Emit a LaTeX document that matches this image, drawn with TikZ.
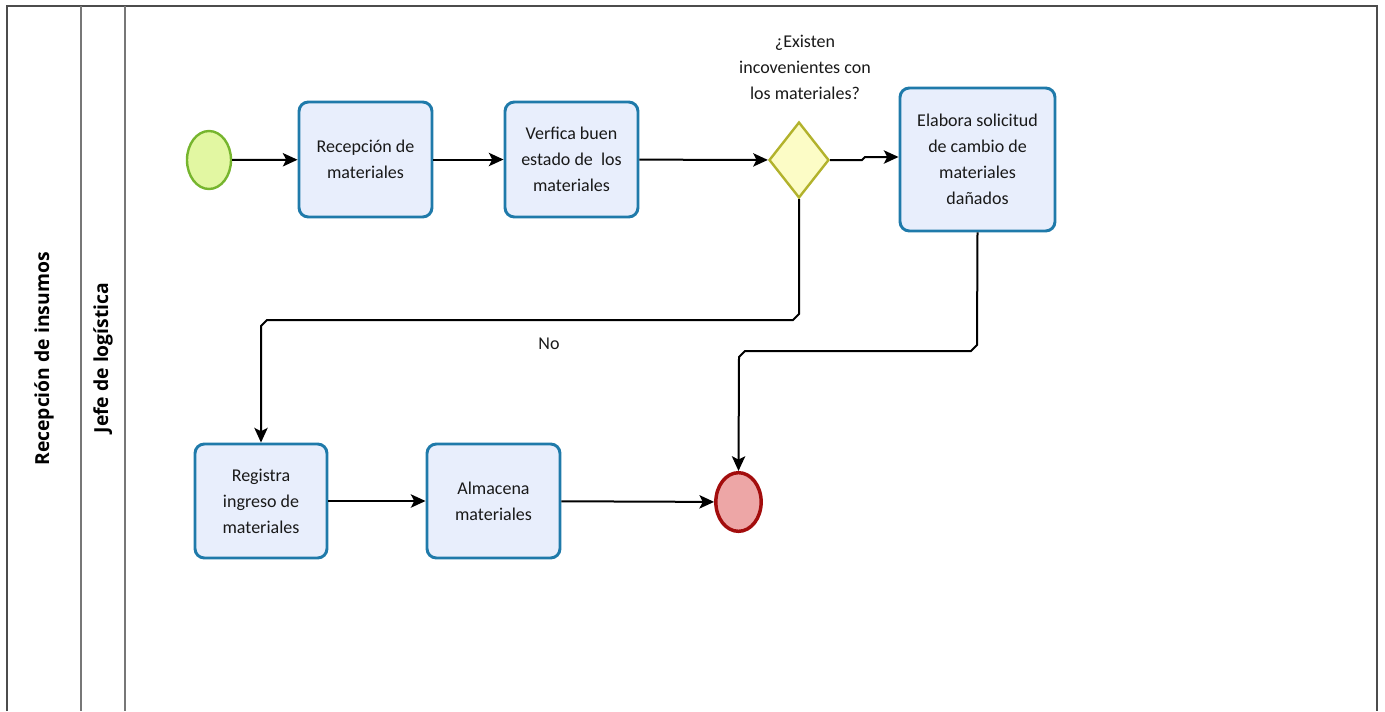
\documentclass[tikz,border=0pt]{standalone}
\usepackage{fontspec}
\setmainfont{Carlito}
\newfontfamily\lanefont{Open Sans}
\usetikzlibrary{shapes.geometric,arrows.meta}
\definecolor{taskfill}{HTML}{E8EEFC}
\definecolor{taskline}{HTML}{1F7AAA}
\definecolor{gwfill}{HTML}{FCFCC6}
\definecolor{gwline}{HTML}{B2B22C}
\definecolor{startfill}{HTML}{E2F7A2}
\definecolor{startline}{HTML}{76B52E}
\definecolor{endfill}{HTML}{EDA6A6}
\definecolor{endline}{HTML}{A30D0D}
\definecolor{laneline}{HTML}{777777}
\tikzset{
  task/.style={draw=taskline, fill=taskfill, line width=2.2pt, rounded corners=7pt,
    align=center, inner sep=2pt, font=\fontsize{13.5}{19.5}\selectfont, text=black!90},
  gateway/.style={diamond, draw=gwline, fill=gwfill, line width=1.8pt, inner sep=0pt,
    minimum width=45pt, minimum height=57pt},
  startev/.style={ellipse, draw=startline, fill=startfill, line width=1.8pt, inner sep=0pt,
    minimum width=33pt, minimum height=43.5pt},
  endev/.style={ellipse, draw=endline, fill=endfill, line width=2.6pt, inner sep=0pt,
    minimum width=34pt, minimum height=44pt},
  flow/.style={draw=black, line width=1.5pt, -{Stealth[length=11pt,width=10pt,inset=2.5pt]}},
  lane/.style={draw=laneline, line width=1.3pt},
  lanelabel/.style={rotate=90, font=\lanefont\bfseries\fontsize{14.5}{17}\selectfont, text=black}
}
\begin{document}
\begin{tikzpicture}[x=0.75pt, y=-0.75pt]
  \useasboundingbox (0,0) rectangle (1385,711);
  % pool frame and lane separators
  \draw[draw=black!70, line width=1.5pt] (7,711) -- (7,6) -- (1377,6) -- (1377,711);
  \draw[lane] (81,6) -- (81,711);
  \draw[lane] (125,6) -- (125,711);
  \node[lanelabel] (pool) at (44,359) {Recepción de insumos};
  \node[lanelabel] (lane) at (103,358) {Jefe de logística};

  % events, tasks and gateway
  \node[startev] (start) at (209,160) {};
  \node[task, minimum width=99.75pt, minimum height=86.25pt] (t1) at (365.5,159.5) {Recepción de\\materiales};
  \node[task, minimum width=99.75pt, minimum height=86.25pt] (t2) at (571.5,159.5) {Verfica buen\\estado de~ los\\materiales};
  \node[gateway] (gw) at (799,160) {};
  \node[align=center, font=\fontsize{13.5}{19.5}\selectfont, text=black!90] (q) at (805,67) {¿Existen\\incovenientes con\\los materiales?};
  \node[task, minimum width=116.25pt, minimum height=107.25pt] (t3) at (977.5,159.5) {Elabora solicitud\\de cambio de\\materiales\\dañados};
  \node[task, minimum width=99pt, minimum height=85.5pt] (t4) at (261,501) {Registra\\ingreso de\\materiales};
  \node[task, minimum width=99.75pt, minimum height=85.5pt] (t5) at (493.5,501) {Almacena\\materiales};
  \node[endev] (end) at (738.5,502) {};

  % sequence flows
  \draw[flow] (start) -- (t1);
  \draw[flow] (t1) -- (t2);
  \draw[flow] (t2) -- (gw);
  \draw[flow] (gw.east) -- (862,160) -- (865,157) -- (t3.west |- 0,157);
  \draw[flow] (gw.south) -- (799,314) -- (793,320) -- (267,320) -- (261,326) -- (t4.north);
  \node[font=\fontsize{13.5}{16}\selectfont, text=black!90] (no) at (549,344) {No};
  \draw[flow] (t3.south) -- (977,345) -- (971,351) -- (745,351) -- (739,357) -- (end.north);
  \draw[flow] (t4) -- (t5);
  \draw[flow] (t5) -- (end);
\end{tikzpicture}
\end{document}
